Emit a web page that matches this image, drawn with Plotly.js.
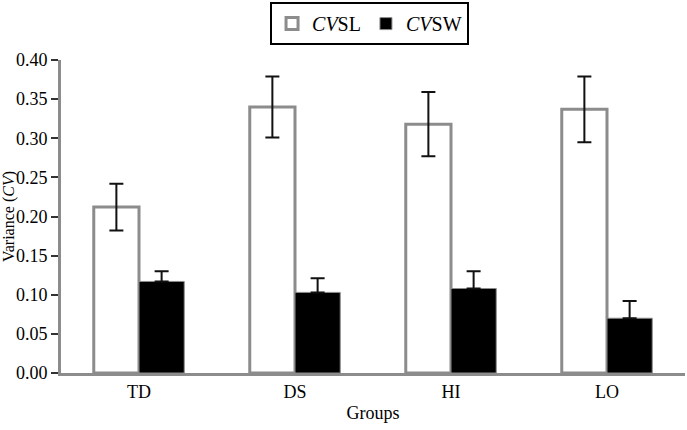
<!DOCTYPE html>
<html>
<head>
<meta charset="utf-8">
<script src="https://cdn.plot.ly/plotly-3.0.1.min.js"></script>
<style>html,body{margin:0;padding:0;background:#fff;}#chart{width:687px;height:430px;}</style>
</head>
<body>
<div id="chart"></div>
<script>
var groups = ["TD", "DS", "HI", "LO"];
var cvslValues = [0.212, 0.340, 0.318, 0.337];
var cvslErrors = [0.030, 0.039, 0.041, 0.042];
var cvswValues = [0.117, 0.103, 0.108, 0.070];
var cvswErrors = [0.013, 0.018, 0.022, 0.022];
var cvswErrorsMinus = [0, 0, 0, 0];
var yTickValues = [0, 0.05, 0.10, 0.15, 0.20, 0.25, 0.30, 0.35, 0.40];
var yTickLabels = ["0.00", "0.05", "0.10", "0.15", "0.20", "0.25", "0.30", "0.35", "0.40"];

var serif = "Liberation Serif";

var traces = [
  {
    type: "bar", name: "<i>CV</i>SL", x: groups, y: cvslValues,
    marker: {color: "#ffffff", line: {color: "#8c8c8c", width: 3}},
    error_y: {type: "data", array: cvslErrors, visible: true, color: "#111", thickness: 2, width: 7}
  },
  {
    type: "bar", name: "<i>CV</i>SW", x: groups, y: cvswValues,
    marker: {color: "#000000", line: {color: "#8c8c8c", width: 1}},
    error_y: {type: "data", symmetric: false, array: cvswErrors, arrayminus: cvswErrorsMinus, visible: true, color: "#111", thickness: 2, width: 7}
  }
];

var layout = {
  width: 687, height: 430,
  margin: {l: 61, r: 2, t: 58, b: 57},
  paper_bgcolor: "#fff", plot_bgcolor: "#fff",
  barmode: "group", bargap: 0.42, bargroupgap: 0,
  font: {family: serif, size: 18, color: "#000"},
  showlegend: true,
  legend: {
    orientation: "h", x: 0.335, xanchor: "left", y: 1.185, yanchor: "top",
    bordercolor: "#000", borderwidth: 2, bgcolor: "#fff",
    font: {family: serif, size: 20, color: "#000"},
    itemwidth: 30, traceorder: "normal"
  },
  xaxis: {
    type: "category", showgrid: false, zeroline: false,
    showline: true, linecolor: "#8c8c8c", linewidth: 3,
    ticks: "", tickfont: {family: serif, size: 18},
    title: {text: "Groups", font: {family: serif, size: 18}, standoff: 6}
  },
  yaxis: {
    range: [0, 0.40], showgrid: false, zeroline: false,
    showline: true, linecolor: "#8c8c8c", linewidth: 3,
    ticks: "outside", ticklen: 7, tickwidth: 2, tickcolor: "#333",
    tickvals: yTickValues, ticktext: yTickLabels,
    tickfont: {family: serif, size: 18},
    title: {text: "Variance (<i>CV</i>)", font: {family: serif, size: 16}, standoff: 0}
  }
};

Plotly.newPlot("chart", traces, layout, {displayModeBar: false, staticPlot: true});
</script>
</body>
</html>
